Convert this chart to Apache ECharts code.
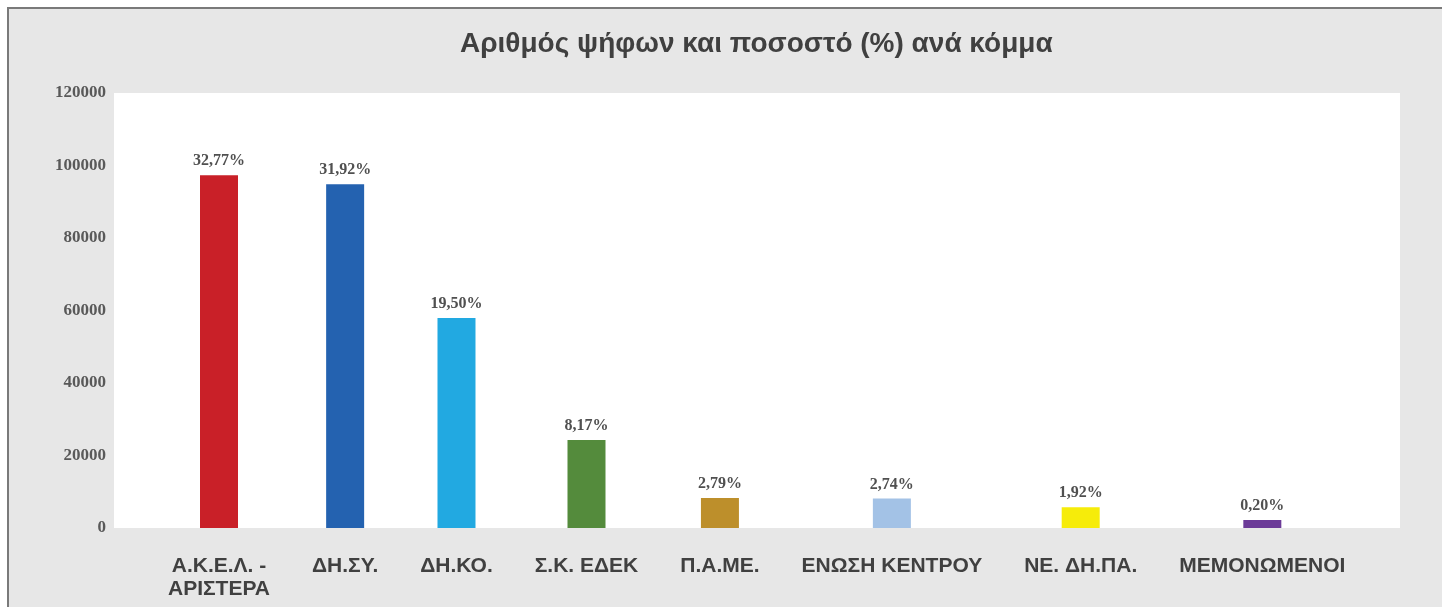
<!DOCTYPE html>
<html>
<head>
<meta charset="utf-8">
<script src="https://cdn.jsdelivr.net/npm/echarts@6/dist/echarts.min.js"></script>
<style>
  html, body { margin: 0; padding: 0; background: #fff; overflow: hidden; }
  #frame {
    position: absolute; left: 7px; top: 7px;
    width: 1435px; height: 600px;
    border-left: 2px solid #7a7a7a; border-top: 2px solid #7a7a7a;
  }
  #chart { width: 1433px; height: 598px; }
</style>
</head>
<body>
<div id="frame"><div id="chart"></div></div>
<script>
// κόμματα, ψήφοι και ποσοστά
const parties = ['Α.Κ.Ε.Λ. -\nΑΡΙΣΤΕΡΑ', 'ΔΗ.ΣΥ.', 'ΔΗ.ΚΟ.', 'Σ.Κ. ΕΔΕΚ', 'Π.Α.ΜΕ.', 'ΕΝΩΣΗ ΚΕΝΤΡΟΥ', 'ΝΕ. ΔΗ.ΠΑ.', 'ΜΕΜΟΝΩΜΕΝΟΙ'];
const votes = [97300, 94800, 57900, 24260, 8280, 8140, 5700, 2200];
const percentLabels = ['32,77%', '31,92%', '19,50%', '8,17%', '2,79%', '2,74%', '1,92%', '0,20%'];
const partyColors = ['#c92028', '#2462b0', '#22a9e1', '#548b3c', '#bd8f2b', '#a3c2e6', '#f6ec0a', '#6c3b98'];
const yMin = 0, yMax = 120000, yStep = 20000;

// το πρωτότυπο απλώνει τις κατηγορίες ανάλογα με το πλάτος των ετικετών
const labelFont = { family: 'Liberation Sans', size: 21 };
const gridLeft = 105, gridRight = 42, chartWidth = 1433;
const plotWidth = chartWidth - gridLeft - gridRight;
const firstCenter = 105, labelGap = 42;

const ctx = document.createElement('canvas').getContext('2d');
ctx.font = 'bold ' + labelFont.size + 'px "' + labelFont.family + '"';
const labelWidths = parties.map(p => Math.max(...p.split('\n').map(s => ctx.measureText(s).width)));
const centers = [];
labelWidths.forEach((w, i) => {
  centers.push(i === 0 ? firstCenter : centers[i - 1] + (labelWidths[i - 1] + w) / 2 + labelGap);
});
const nearestParty = v => {
  let best = 0;
  centers.forEach((c, i) => { if (Math.abs(c - v) < Math.abs(centers[best] - v)) best = i; });
  return parties[best];
};

const myChart = echarts.init(document.getElementById('chart'));
const option = {
  backgroundColor: '#e7e7e7',
  animation: false,
  title: {
    text: 'Αριθμός ψήφων και ποσοστό (%) ανά κόμμα',
    left: 446,
    top: 16,
    textStyle: { fontFamily: 'Liberation Sans', fontWeight: 'bold', fontSize: 28, color: '#404040' }
  },
  grid: { left: gridLeft, right: gridRight, top: 84, bottom: 79, show: true, backgroundColor: '#fff', borderWidth: 0 },
  xAxis: {
    type: 'value',
    min: 0,
    max: plotWidth,
    splitLine: { show: false },
    axisLine: { show: false },
    axisTick: { show: false },
    axisLabel: {
      customValues: centers,
      formatter: v => nearestParty(v),
      margin: 27,
      fontFamily: labelFont.family,
      fontWeight: 'bold',
      fontSize: labelFont.size,
      lineHeight: 23,
      color: '#404040'
    }
  },
  yAxis: {
    type: 'value',
    min: yMin, max: yMax, interval: yStep,
    splitLine: { show: false },
    axisLine: { show: false },
    axisTick: { show: false },
    axisLabel: {
      margin: 8,
      padding: [0, 0, 10, 0],
      formatter: v => String(v),
      fontFamily: 'Liberation Serif',
      fontWeight: 'bold',
      fontSize: 17,
      color: '#595959'
    }
  },
  series: [{
    type: 'bar',
    barWidth: 38,
    data: votes.map((v, i) => ({ value: [centers[i], v], itemStyle: { color: partyColors[i] } })),
    label: {
      show: true,
      position: 'top',
      distance: 6,
      formatter: p => percentLabels[p.dataIndex],
      fontFamily: 'Liberation Serif',
      fontWeight: 'bold',
      fontSize: 16,
      color: '#505050'
    }
  }]
};
myChart.setOption(option);
</script>
</body>
</html>
